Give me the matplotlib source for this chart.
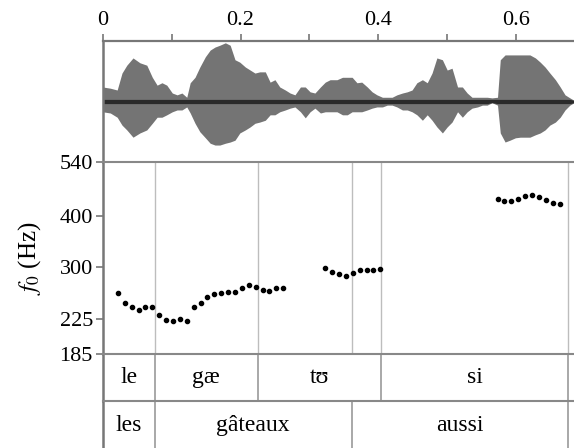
import matplotlib
matplotlib.use("Agg")
import matplotlib.pyplot as plt
import numpy as np

# ---- data ----
# waveform envelope (time in s, upper / lower normalised amplitude)
wave_t = [0.000, 0.011, 0.021, 0.028, 0.035, 0.044, 0.054, 0.064, 0.072, 0.079,
          0.086, 0.093, 0.101, 0.108, 0.115, 0.122, 0.127, 0.134, 0.141, 0.149,
          0.156, 0.163, 0.170, 0.178, 0.185, 0.192, 0.199, 0.207, 0.214, 0.221,
          0.228, 0.236, 0.243, 0.250, 0.257, 0.265, 0.272, 0.279, 0.287, 0.294,
          0.301, 0.308, 0.316, 0.323, 0.330, 0.340, 0.348, 0.355, 0.362, 0.369,
          0.376, 0.384, 0.391, 0.398, 0.406, 0.413, 0.420, 0.427, 0.435, 0.442,
          0.449, 0.456, 0.464, 0.471, 0.478, 0.485, 0.493, 0.500, 0.507, 0.515,
          0.522, 0.529, 0.536, 0.544, 0.551, 0.558, 0.565, 0.573, 0.577, 0.584,
          0.591, 0.599, 0.606, 0.613, 0.620, 0.628, 0.635, 0.642, 0.649, 0.657,
          0.664, 0.671, 0.678, 0.684]
wave_top = [0.24, 0.22, 0.19, 0.47, 0.60, 0.72, 0.64, 0.60, 0.40, 0.27,
            0.31, 0.27, 0.14, 0.11, 0.14, 0.07, 0.31, 0.40, 0.57, 0.74,
            0.85, 0.90, 0.93, 0.97, 0.93, 0.69, 0.65, 0.57, 0.52, 0.47,
            0.49, 0.49, 0.32, 0.36, 0.24, 0.19, 0.14, 0.11, 0.24, 0.24,
            0.16, 0.14, 0.24, 0.32, 0.36, 0.36, 0.40, 0.40, 0.40, 0.31,
            0.32, 0.24, 0.16, 0.11, 0.07, 0.07, 0.07, 0.11, 0.14, 0.16,
            0.19, 0.31, 0.36, 0.31, 0.47, 0.72, 0.69, 0.52, 0.55, 0.24,
            0.24, 0.14, 0.07, 0.07, 0.07, 0.07, 0.06, 0.07, 0.69, 0.77,
            0.77, 0.77, 0.77, 0.77, 0.77, 0.72, 0.65, 0.57, 0.47, 0.36,
            0.24, 0.11, 0.06, 0.02]
wave_bot = [-0.17, -0.19, -0.26, -0.39, -0.47, -0.59, -0.52, -0.47, -0.36, -0.26,
            -0.26, -0.22, -0.17, -0.14, -0.14, -0.09, -0.19, -0.36, -0.50, -0.60,
            -0.69, -0.72, -0.72, -0.69, -0.67, -0.64, -0.52, -0.47, -0.42, -0.36,
            -0.34, -0.31, -0.22, -0.22, -0.17, -0.14, -0.11, -0.09, -0.17, -0.27,
            -0.17, -0.11, -0.19, -0.17, -0.17, -0.17, -0.22, -0.22, -0.17, -0.17,
            -0.17, -0.14, -0.11, -0.09, -0.09, -0.06, -0.06, -0.09, -0.14, -0.14,
            -0.17, -0.22, -0.31, -0.22, -0.31, -0.42, -0.52, -0.42, -0.34, -0.17,
            -0.26, -0.17, -0.11, -0.09, -0.06, -0.06, -0.02, -0.06, -0.52, -0.67,
            -0.64, -0.60, -0.59, -0.59, -0.59, -0.55, -0.52, -0.47, -0.39, -0.34,
            -0.26, -0.14, -0.06, -0.02]

# f0 track (three voiced stretches)
f0_t1 = [0.022, 0.032, 0.042, 0.052, 0.062, 0.072, 0.082, 0.092, 0.102, 0.112,
         0.122, 0.132, 0.142, 0.152, 0.162, 0.172, 0.182, 0.192, 0.202, 0.212,
         0.222, 0.232, 0.242, 0.252, 0.262]
f0_v1 = [259.6, 246.1, 240.6, 236.6, 240.6, 240.6, 229.6, 224.2, 222.5, 224.5,
         222.9, 241.0, 246.5, 254.9, 258.2, 260.7, 261.1, 261.7, 267.0, 272.6,
         269.1, 265.1, 262.6, 267.6, 267.6]
f0_t2 = [0.323, 0.333, 0.343, 0.353, 0.363, 0.373, 0.383, 0.393, 0.403]
f0_v2 = [299.3, 292.6, 288.3, 286.2, 291.0, 294.8, 295.9, 295.9, 297.6]
f0_t3 = [0.573, 0.583, 0.593, 0.603, 0.613, 0.623, 0.633, 0.643, 0.653, 0.663]
f0_v3 = [439.1, 435.2, 435.2, 439.1, 446.5, 448.3, 443.3, 435.9, 428.7, 427.9]

# segment boundaries and labels
syll_bounds = [0.0, 0.0752, 0.2248, 0.4045, 0.6757]
syll_labels = ["le", "gæ", "tʊ", "si"]
word_bounds = [0.0, 0.0752, 0.3616, 0.6757]
word_labels = ["les", "gâteaux", "aussi"]

time_ticks = [0, 0.1, 0.2, 0.3, 0.4, 0.5, 0.6]
time_labels = ["0", "", "0.2", "", "0.4", "", "0.6"]
f0_ticks = [185, 225, 300, 400, 540]

# ---- drawing ----
plt.rcParams['font.family'] = ['Liberation Serif', 'DejaVu Serif']
plt.rcParams['mathtext.fontset'] = 'stix'
FS = 16
XMAX = 0.684
spine_c = '#777777'
hline_c = '#888888'
vline_c = '#bdbdbd'
tier_v_c = '#9a9a9a'

fig = plt.figure(figsize=(5.74, 4.48), dpi=100)
W, H = 574, 448
def rect(x0, y0, x1, y1):
    return [x0 / W, (H - y1) / H, (x1 - x0) / W, (y1 - y0) / H]

ax_w = fig.add_axes(rect(102.7, 41, 574, 162))
ax_f = fig.add_axes(rect(102.7, 162, 574, 354))
ax_s = fig.add_axes(rect(102.7, 354, 574, 401))
ax_d = fig.add_axes(rect(102.7, 401, 574, 450))

# waveform
wt = np.array(wave_t)
top = np.array(wave_top)
bot = np.array(wave_bot)
ax_w.fill_between(wt, bot, top, color='#747474', lw=0)
ax_w.fill_between(wt, np.maximum(bot, -0.035), np.minimum(top, 0.035),
                  color='#2a2a2a', lw=0)
ax_w.set_xlim(0, XMAX)
ax_w.set_ylim(-1, 1)
ax_w.xaxis.tick_top()
ax_w.set_xticks(time_ticks)
ax_w.set_xticklabels(time_labels, fontsize=FS)
ax_w.tick_params(axis='x', direction='out', length=5, width=1.2, color=spine_c, pad=3)
ax_w.set_yticks([])
for s in ['right', 'bottom']:
    ax_w.spines[s].set_visible(False)
ax_w.spines['top'].set_color(spine_c)
ax_w.spines['top'].set_linewidth(1.6)
ax_w.spines['left'].set_color(spine_c)
ax_w.spines['left'].set_linewidth(1.8)

# f0 panel
ax_f.set_yscale('log')
ax_f.set_ylim(185, 540)
ax_f.set_xlim(0, XMAX)
for b in syll_bounds[1:4] + [word_bounds[2], 0.6757]:
    ax_f.axvline(b, color=vline_c, lw=1.0, zorder=1)
for tt, vv in [(f0_t1, f0_v1), (f0_t2, f0_v2), (f0_t3, f0_v3)]:
    ax_f.plot(tt, vv, ls='none', marker='o', ms=3.0, color='black', zorder=3)
ax_f.set_yticks(f0_ticks)
ax_f.set_yticklabels([str(v) for v in f0_ticks], fontsize=FS)
ax_f.yaxis.set_minor_locator(matplotlib.ticker.NullLocator())
ax_f.tick_params(axis='y', direction='out', length=5, width=1.2, color=spine_c, pad=2)
ax_f.set_xticks([])
ax_f.spines['right'].set_visible(False)
ax_f.spines['bottom'].set_visible(False)
ax_f.spines['top'].set_color(hline_c)
ax_f.spines['top'].set_linewidth(1.5)
ax_f.spines['left'].set_color(spine_c)
ax_f.spines['left'].set_linewidth(1.8)
ax_f.set_ylabel(r'$f_0$ (Hz)', fontsize=FS + 2, labelpad=12)

# tiers
for ax, bounds, labels in [(ax_s, syll_bounds, syll_labels),
                           (ax_d, word_bounds, word_labels)]:
    ax.set_xlim(0, XMAX)
    ax.set_ylim(0, 1)
    ax.set_xticks([])
    ax.set_yticks([])
    for b in bounds[1:]:
        ax.axvline(b, color=tier_v_c, lw=1.2)
    for i, lab in enumerate(labels):
        ax.text((bounds[i] + bounds[i + 1]) / 2, 0.5, lab, ha='center',
                va='center', fontsize=FS + 1)
    ax.spines['right'].set_visible(False)
    ax.spines['bottom'].set_visible(False)
    ax.spines['top'].set_color(hline_c)
    ax.spines['top'].set_linewidth(1.5)
    ax.spines['left'].set_color(spine_c)
    ax.spines['left'].set_linewidth(1.8)

fig.savefig('out.png', dpi=100)
